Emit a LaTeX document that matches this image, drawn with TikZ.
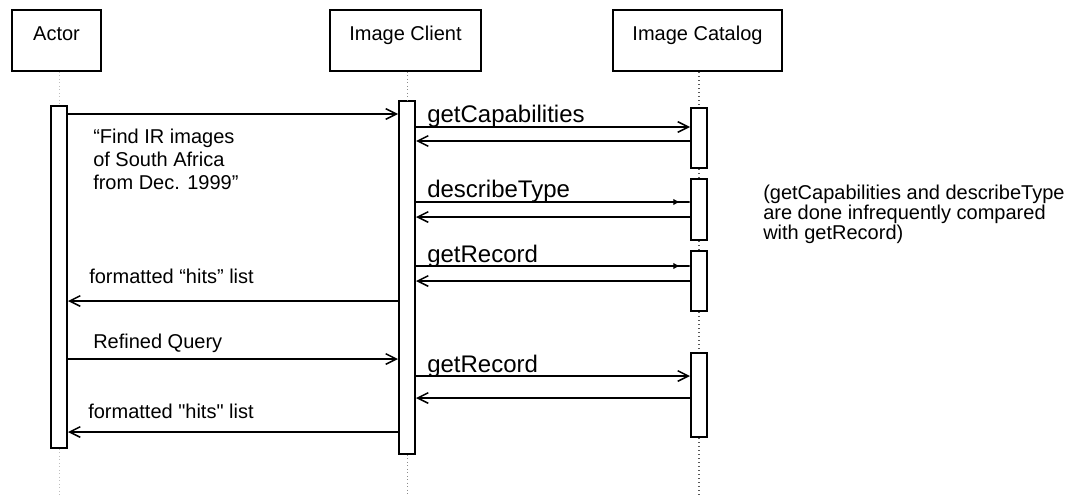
\documentclass[tikz,border=0pt]{standalone}
\usepackage{fontspec}
\setmainfont{Liberation Sans}[Ligatures=TeXOff]
\usetikzlibrary{arrows.meta}

\begin{document}
\begin{tikzpicture}[x=0.75pt,y=-0.75pt,
 objbox/.style={draw,line width=1.5pt,minimum height=45.75pt,anchor=north west,inner sep=0pt,text height=12pt,text depth=12pt,font=\fontsize{15}{18}\selectfont},
 act/.style={draw,line width=1.5pt,fill=white,minimum width=12pt,anchor=north,inner sep=0pt},
 msg/.style={line width=1.1pt,-{Straight Barb[length=8pt,width=8pt]}},
 async/.style={line width=1.1pt,-{Latex[length=5pt,width=5pt,sep=7pt]Butt Cap}},
 call/.style={anchor=base west,inner sep=0pt,font=\fontsize{18}{21.6}\selectfont},
 txt/.style={anchor=base west,inner sep=0pt,font=\fontsize{15}{18}\selectfont},
 life/.style={dotted,line width=0.6pt,black!45}]
 \useasboundingbox (0,0) rectangle (1070,496);
 \coordinate (bottom) at (0,495);

 \node[objbox,minimum width=66.75pt] (actor) at (11,9) {Actor};
 \node[objbox,minimum width=113.25pt] (client) at (329,9) {Image Client};
 \node[objbox,minimum width=126.75pt] (catalog) at (612,9) {Image Catalog};

 \node[act,minimum height=256.5pt] (actorAct) at (59,105) {};
 \node[act,minimum height=264.75pt] (clientAct) at (407,100) {};
 \node[act,minimum height=45pt] (cat1) at (699,107) {};
 \node[act,minimum height=45.75pt] (cat2) at (699,178) {};
 \node[act,minimum height=45pt] (cat3) at (699,250) {};
 \node[act,minimum height=63pt] (cat4) at (699,352) {};

 \draw[life,black!25] (actorAct.north |- actor.south) -- (actorAct.north);
 \draw[life,black!25] (actorAct.south) -- (actorAct.south |- bottom);
 \draw[life] (clientAct.north |- client.south) -- (clientAct.north);
 \draw[life] (clientAct.south) -- (clientAct.south |- bottom);
 \draw[life,line width=1pt,black!65] (cat1.north |- catalog.south) -- (cat1.north);
 \draw[life,line width=1pt,black!65] (cat1.south) -- (cat2.north);
 \draw[life,line width=1pt,black!65] (cat2.south) -- (cat3.north);
 \draw[life,line width=1pt,black!65] (cat3.south) -- (cat4.north);
 \draw[life,line width=1pt,black!65] (cat4.south) -- (cat4.south |- bottom);

 \draw[msg] (actorAct.east |- 0,114) -- (clientAct.west |- 0,114);
 \node[anchor=north west,inner sep=0pt,align=left,font=\fontsize{15}{17.25}\selectfont] (query) at (93,128.5)
  {“Find IR images\\of South Africa\\from Dec. 1999”};

 \draw[msg] (clientAct.east |- 0,127) -- (cat1.west |- 0,127);
 \node[call] (capLabel) at (427,122.5) {getCapabilities};
 \draw[msg] (cat1.west |- 0,141) -- (clientAct.east |- 0,141);

 \draw[async] (clientAct.east |- 0,202) -- (cat2.west |- 0,202);
 \node[call] (typeLabel) at (427,197) {describeType};
 \draw[msg] (cat2.west |- 0,217) -- (clientAct.east |- 0,217);

 \draw[async] (clientAct.east |- 0,266) -- (cat3.west |- 0,266);
 \node[call] (recLabel) at (427,262) {getRecord};
 \draw[msg] (cat3.west |- 0,281) -- (clientAct.east |- 0,281);

 \draw[msg] (clientAct.west |- 0,301) -- (actorAct.east |- 0,301);
 \node[txt] (hitsLabel) at (89,283) {formatted “hits” list};

 \draw[msg] (actorAct.east |- 0,359) -- (clientAct.west |- 0,359);
 \node[txt] (refineLabel) at (93,348) {Refined Query};

 \draw[msg] (clientAct.east |- 0,376) -- (cat4.west |- 0,376);
 \node[call] (recLabelB) at (427,372) {getRecord};
 \draw[msg] (cat4.west |- 0,398) -- (clientAct.east |- 0,398);

 \draw[msg] (clientAct.west |- 0,432) -- (actorAct.east |- 0,432);
 \node[txt] (hitsLabelB) at (88,418) {formatted "hits" list};

 \node[anchor=north west,inner sep=0pt,align=left,font=\fontsize{15}{15}\selectfont] (note) at (763,185)
  {(getCapabilities and describeType\\are done infrequently compared\\with getRecord)};
\end{tikzpicture}
\end{document}
